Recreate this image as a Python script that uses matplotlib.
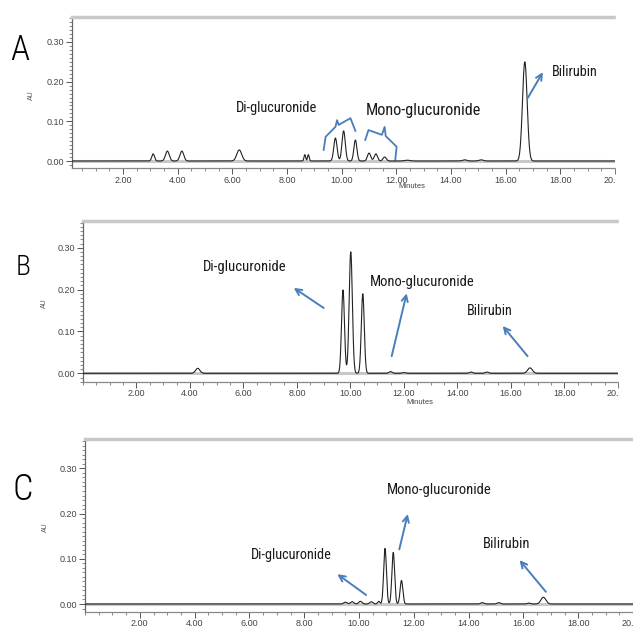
import matplotlib
matplotlib.use("Agg")
import matplotlib.pyplot as plt
import numpy as np
from matplotlib.ticker import MultipleLocator, FormatStrFormatter
from matplotlib.patches import Rectangle

# ---------------- data ----------------
# Panel A: standard mixture
rt_A = [3.10, 3.62, 4.15, 6.25, 8.65, 8.78, 9.77, 10.07, 10.50, 11.00, 11.25, 11.57, 12.40, 14.50, 15.10, 16.70]
h_A = [0.018, 0.025, 0.025, 0.028, 0.016, 0.016, 0.058, 0.076, 0.053, 0.020, 0.018, 0.010, 0.002, 0.003, 0.003, 0.250]
w_A = [0.05, 0.07, 0.07, 0.09, 0.03, 0.03, 0.06, 0.06, 0.055, 0.06, 0.06, 0.06, 0.10, 0.08, 0.08, 0.085]

# Panel B
rt_B = [4.29, 9.72, 10.01, 10.46, 11.50, 12.00, 14.50, 15.10, 16.71]
h_B = [0.012, 0.199, 0.290, 0.190, 0.004, 0.002, 0.003, 0.003, 0.013]
w_B = [0.08, 0.055, 0.06, 0.055, 0.06, 0.06, 0.06, 0.06, 0.09]

# Panel C
rt_C = [9.50, 9.75, 10.05, 10.45, 10.72, 10.95, 11.25, 11.55, 14.50, 15.10, 16.20, 16.73]
h_C = [0.004, 0.005, 0.006, 0.005, 0.006, 0.123, 0.114, 0.052, 0.003, 0.003, 0.002, 0.015]
w_C = [0.06, 0.06, 0.06, 0.06, 0.04, 0.05, 0.05, 0.05, 0.06, 0.06, 0.06, 0.09]

panel_letters = ["A", "B", "C"]
compound_labels = ["Di-glucuronide", "Mono-glucuronide", "Bilirubin"]
y_ticks = [0.00, 0.10, 0.20, 0.30]
x_ticks = [2, 4, 6, 8, 10, 12, 14, 16, 18, 20]

# brace annotations in panel A (minutes, AU)
brace1_x = [9.34, 9.41, 9.77, 9.83, 9.89, 10.32, 10.50]
brace1_y = [0.028, 0.061, 0.086, 0.103, 0.091, 0.108, 0.076]
brace2_x = [10.86, 10.98, 11.47, 11.57, 11.61, 12.01, 11.96]
brace2_y = [0.053, 0.078, 0.066, 0.086, 0.063, 0.036, 0.0025]

# ---------------- figure ----------------
W, H = 633, 628
fig = plt.figure(figsize=(W / 100, H / 100), dpi=100)

def px_axes(left, right, top, bottom):
    return [left / W, (H - bottom) / H, (right - left) / W, (bottom - top) / H]

blue = "#4A7EBB"
narrow = ["Roboto Condensed", "Liberation Sans", "DejaVu Sans"]
tickfont = ["Liberation Sans", "DejaVu Sans"]
txtcol = "#1a1a1a"

panels = [
    dict(rect=px_axes(71.7, 615, 17, 168), xlim=(0.12, 19.91), ylim=(-0.0176, 0.363),
         rt=rt_A, h=h_A, w=w_A),
    dict(rect=px_axes(82.7, 618, 220.7, 381.7), xlim=(-0.01, 19.89), ylim=(-0.020, 0.3645),
         rt=rt_B, h=h_B, w=w_B),
    dict(rect=px_axes(85, 633, 439, 611.7), xlim=(0.0, 19.86), ylim=(-0.017, 0.365),
         rt=rt_C, h=h_C, w=w_C),
]

axes = []
for p in panels:
    ax = fig.add_axes(p["rect"])
    t = np.linspace(0, 20, 4001)
    sig = np.zeros_like(t)
    for r, hh, ww in zip(p["rt"], p["h"], p["w"]):
        sig += hh * np.exp(-0.5 * ((t - r) / ww) ** 2)
    ax.axhline(0, color="#c8c8c8", lw=2.2, zorder=1)
    ax.plot(t, sig, color="#222222", lw=0.8, zorder=3)
    ax.set_xlim(*p["xlim"])
    ax.set_ylim(*p["ylim"])
    ax.spines["right"].set_visible(False)
    ax.spines["top"].set_color("#c8c8c8")
    ax.spines["top"].set_linewidth(2.5)
    ax.spines["left"].set_color("#666666")
    ax.spines["left"].set_linewidth(0.9)
    ax.spines["bottom"].set_color("#888888")
    ax.spines["bottom"].set_linewidth(0.9)
    ax.set_xticks(x_ticks)
    ax.xaxis.set_major_formatter(FormatStrFormatter("%.2f"))
    ax.xaxis.set_minor_locator(MultipleLocator(0.5))
    ax.set_yticks(y_ticks)
    ax.yaxis.set_major_formatter(FormatStrFormatter("%.2f"))
    ax.yaxis.set_minor_locator(MultipleLocator(0.01))
    ax.tick_params(axis="both", which="major", direction="out", length=4, width=0.7,
                   color="#555555", labelsize=6.5, labelcolor="#444444", pad=1.5)
    ax.tick_params(axis="both", which="minor", direction="out", length=2, width=0.6,
                   color="#777777")
    for lab in ax.get_xticklabels() + ax.get_yticklabels():
        lab.set_family(tickfont)
    axes.append(ax)

axA, axB, axC = axes

# hide the part of the "20.00" labels beyond the plot (as in the reference crop)
fig.patches.append(Rectangle((616 / W, (H - 200) / H), (W - 616) / W, 200 / H,
                             transform=fig.transFigure, color="white", zorder=10))
fig.patches.append(Rectangle((619 / W, (H - 410) / H), (W - 619) / W, 200 / H,
                             transform=fig.transFigure, color="white", zorder=10))

# panel letters
for letter, (xp, yp, fs) in zip(panel_letters, [(20, 50, 25), (23, 267, 20), (23, 490, 26)]):
    fig.text(xp / W, 1 - yp / H, letter, fontsize=fs, family=narrow, fontweight="light",
             ha="center", va="center")

# AU labels
for xp, yp in [(31, 95), (44, 303), (45, 527)]:
    fig.text(xp / W, 1 - yp / H, "AU", fontsize=5, rotation=90, family=tickfont,
             color="#555555", ha="center", va="center")

# Minutes labels
for xp, yp in [(412, 187), (420, 403)]:
    fig.text(xp / W, 1 - yp / H, "Minutes", fontsize=5.5, family=tickfont,
             color="#444444", ha="center", va="center")

# ---------------- annotations ----------------
arrow = dict(arrowstyle="->", color=blue, lw=1.4, mutation_scale=11, shrinkA=0, shrinkB=0)
tk = dict(family=narrow, ha="center", va="center", color=txtcol)

# Panel A
axA.text(7.61, 0.134, compound_labels[0], fontsize=10.4, **tk)
axA.text(13.0, 0.127, compound_labels[1], fontsize=11.7, **tk)
axA.text(18.52, 0.224, compound_labels[2], fontsize=10.3, **tk)
axA.plot(brace1_x, brace1_y, color=blue, lw=1.3)
axA.plot(brace2_x, brace2_y, color=blue, lw=1.3)
axA.annotate("", xy=(17.36, 0.224), xytext=(16.81, 0.159), arrowprops=arrow)

# Panel B
axB.text(6.06, 0.253, compound_labels[0], fontsize=10.5, **tk)
axB.text(12.68, 0.217, compound_labels[1], fontsize=10.5, **tk)
axB.text(15.21, 0.150, compound_labels[2], fontsize=10.3, **tk)
axB.annotate("", xy=(7.88, 0.204), xytext=(9.0, 0.156), arrowprops=arrow)
axB.annotate("", xy=(12.10, 0.191), xytext=(11.54, 0.041), arrowprops=arrow)
axB.annotate("", xy=(15.69, 0.113), xytext=(16.62, 0.041), arrowprops=arrow)

# Panel C
axC.text(7.54, 0.108, compound_labels[0], fontsize=10.3, **tk)
axC.text(12.93, 0.252, compound_labels[1], fontsize=10.5, **tk)
axC.text(15.40, 0.132, compound_labels[2], fontsize=10.5, **tk)
axC.annotate("", xy=(9.21, 0.066), xytext=(10.26, 0.020), arrowprops=arrow)
axC.annotate("", xy=(11.78, 0.199), xytext=(11.47, 0.121), arrowprops=arrow)
axC.annotate("", xy=(15.86, 0.097), xytext=(16.82, 0.027), arrowprops=arrow)

fig.savefig("out.png", dpi=100)
